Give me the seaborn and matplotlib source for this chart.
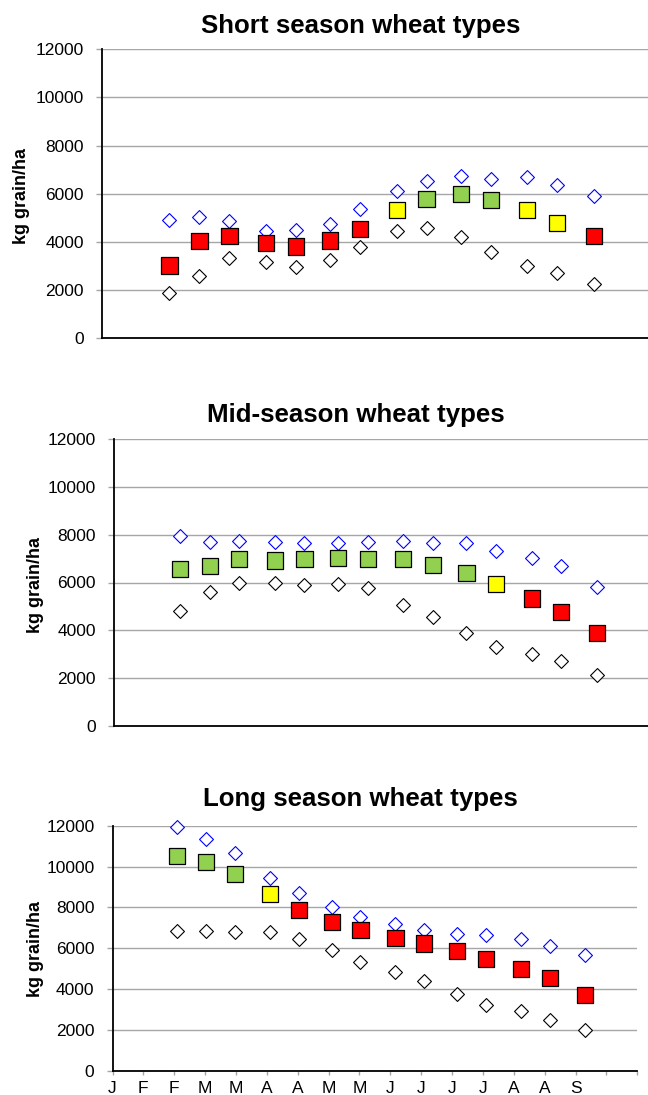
import numpy as np
import pandas as pd
import matplotlib.pyplot as plt
import seaborn as sns

# sowing dates as day of year: 15 Feb, 1 Mar, 15 Mar, ... 1 Sep
sow_doy = [46, 60, 74, 91, 105, 121, 135, 152, 166, 182, 196, 213, 227, 244]
month_labels = ['J', 'F', 'F', 'M', 'M', 'A', 'A', 'M', 'M', 'J', 'J', 'J', 'J', 'A', 'A', 'S', '', '']

short_high = [4910, 5020, 4890, 4470, 4500, 4750, 5360, 6120, 6530, 6730, 6620, 6690, 6370, 5900]
short_mean = [3020, 4030, 4250, 3940, 3810, 4060, 4550, 5340, 5790, 5990, 5760, 5330, 4790, 4240]
short_low = [1880, 2600, 3350, 3180, 2950, 3240, 3810, 4470, 4600, 4190, 3600, 3000, 2710, 2270]
short_class = ['red'] * 7 + ['yellow'] + ['green'] * 3 + ['yellow'] * 2 + ['red']

mid_high = [7950, 7680, 7740, 7670, 7650, 7640, 7710, 7720, 7640, 7640, 7330, 7010, 6680, 5830]
mid_mean = [6560, 6680, 6970, 6920, 6970, 7010, 6970, 6970, 6740, 6400, 5930, 5330, 4760, 3900]
mid_low = [4820, 5610, 6000, 5970, 5890, 5950, 5780, 5060, 4570, 3880, 3290, 3000, 2740, 2140]
mid_class = ['green'] * 10 + ['yellow'] + ['red'] * 3

long_high = [11950, 11330, 10660, 9460, 8690, 8020, 7520, 7210, 6880, 6720, 6640, 6460, 6100, 5660]
long_mean = [10530, 10220, 9650, 8640, 7860, 7300, 6880, 6500, 6240, 5890, 5480, 4990, 4530, 3720]
long_low = [6850, 6830, 6780, 6800, 6440, 5900, 5350, 4840, 4420, 3750, 3210, 2930, 2510, 2010]
long_class = ['green'] * 3 + ['yellow'] + ['red'] * 10

titles = ['Short season wheat types', 'Mid-season wheat types', 'Long season wheat types']

sns.set_theme(style='white')
plt.rcParams['font.family'] = ['Liberation Sans', 'DejaVu Sans']
plt.rcParams['text.color'] = 'black'

W, H = 648, 1095
fig = plt.figure(figsize=(W / 100, H / 100), dpi=100)

# axes boxes in pixels: left, top(12000), right, bottom(0)
boxes = [(102.0, 49.3, 648.3, 338.3),
         (114.0, 438.7, 650.6, 726.3),
         (112.5, 825.7, 637.3, 1071.0)]
title_pos = [(360.5, 33), (356, 421.7), (360.5, 806)]
ylab_pos = [(22, 195.5), (36, 585), (35, 949)]

pal = {'red': '#FF0000', 'yellow': '#FFFF00', 'green': '#92D050'}
x0, step = 14.5, 15.0
ticks = x0 + step * np.arange(18)

panels = [(short_high, short_mean, short_low, short_class),
          (mid_high, mid_mean, mid_low, mid_class),
          (long_high, long_mean, long_low, long_class)]

for k, (hi, mn, lo, cl) in enumerate(panels):
    l, t, r, b = boxes[k]
    ax = fig.add_axes([l / W, 1 - b / H, (r - l) / W, (b - t) / H])
    dd = pd.DataFrame({'doy': sow_doy, 'high': hi, 'mean': mn, 'low': lo, 'cls': cl})

    sns.scatterplot(data=dd, x='doy', y='high', ax=ax, marker='D', s=50,
                    color='white', edgecolor='#0000FF', linewidth=0.8,
                    clip_on=False, zorder=3)
    sns.scatterplot(data=dd, x='doy', y='low', ax=ax, marker='D', s=50,
                    color='white', edgecolor='black', linewidth=0.8,
                    clip_on=False, zorder=3)
    sns.scatterplot(data=dd, x='doy', y='mean', hue='cls', palette=pal, ax=ax,
                    marker='s', s=135, edgecolor='black', linewidth=0.9,
                    legend=False, clip_on=False, zorder=4)

    ax.set_xlim(x0, x0 + 17 * step)
    ax.set_ylim(0, 12000)
    ax.set_yticks(np.arange(0, 12001, 2000))
    ax.yaxis.grid(True, color='#A6A6A6', linewidth=1.0)
    ax.set_axisbelow(True)
    for s in ['top', 'right']:
        ax.spines[s].set_visible(False)
    ax.spines['left'].set_color('black')
    ax.spines['left'].set_linewidth(1.3)
    ax.spines['bottom'].set_color('black')
    ax.spines['bottom'].set_linewidth(1.3)
    ax.tick_params(axis='y', left=True, length=4, width=1.0, color='#A6A6A6',
                   pad=9, labelsize=12.5, labelcolor='black')
    if k == 2:
        ax.set_xticks(ticks)
        ax.set_xticklabels(month_labels)
        ax.tick_params(axis='x', bottom=True, length=3, width=1.0, color='#A6A6A6',
                       pad=4, labelsize=12.5, labelcolor='black')
    else:
        ax.set_xticks([])
    ax.set_xlabel('')
    ax.set_ylabel('')

    tx, ty = title_pos[k]
    fig.text(tx / W, 1 - ty / H, titles[k], ha='center', va='baseline',
             fontsize=18.6, fontweight='bold', color='black')
    lx, ly = ylab_pos[k]
    fig.text(lx / W, 1 - ly / H, 'kg grain/ha', ha='center', va='center',
             rotation=90, fontsize=13, fontweight='bold', color='black')

fig.savefig('out.png', dpi=100)
